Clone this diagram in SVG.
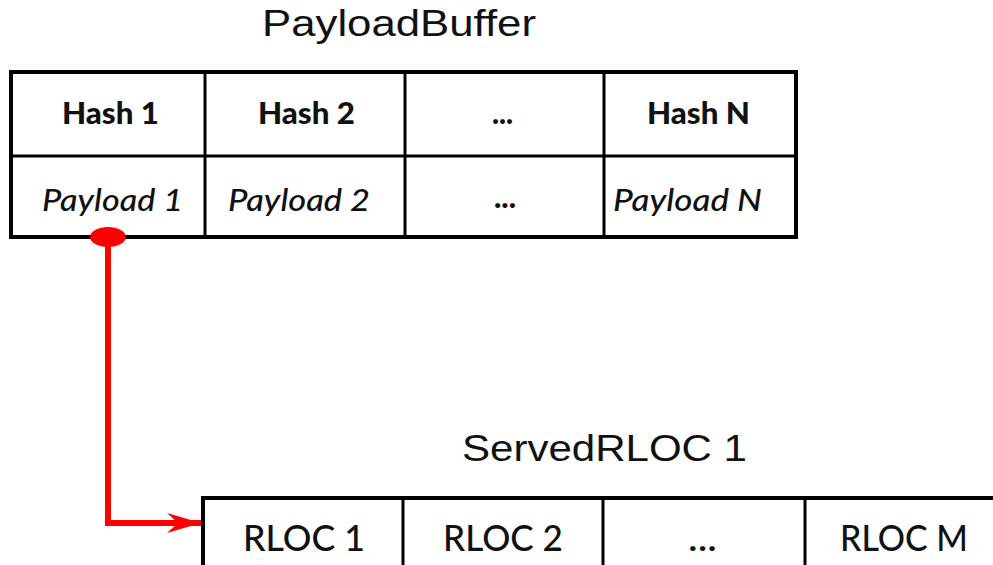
<svg xmlns="http://www.w3.org/2000/svg" width="993" height="565" viewBox="0 0 993 565">
  <style>
    .title { font-family: "Liberation Sans", Arial, sans-serif; font-size: 36px; fill: #111; }
    .hash { font-family: Lato, "Open Sans", sans-serif; font-weight: 900; font-size: 30px; fill: #111; }
    .pay { font-family: Lato, "Open Sans", sans-serif; font-style: italic; font-weight: 500; font-size: 31px; fill: #111; }
    .rloc { font-family: Lato, "Open Sans", sans-serif; font-weight: 500; font-size: 37px; fill: #111; }
    .frame { fill: #fff; stroke: #000; stroke-width: 4; }
    .grid { stroke: #000; stroke-width: 3; fill: none; }
    .link { stroke: #ff0000; stroke-width: 6; fill: none; stroke-linejoin: miter; }
  </style>
  <defs>
    <marker id="arrow" markerUnits="userSpaceOnUse" markerWidth="40" markerHeight="24" refX="34" refY="10" orient="auto">
      <path d="M0,0 L34,10 L0,20 L11,10 Z" fill="#ff0000"/>
    </marker>
  </defs>

  <rect width="993" height="565" fill="#fff"/>

  <!-- PayloadBuffer table -->
  <g id="payload-buffer">
    <text class="title" x="262" y="36" textLength="274" lengthAdjust="spacingAndGlyphs">PayloadBuffer</text>
    <rect class="frame" x="11" y="72" width="785" height="165"/>
    <line class="grid" x1="11" y1="156" x2="796" y2="156"/>
    <line class="grid" x1="205" y1="72" x2="205" y2="237"/>
    <line class="grid" x1="405" y1="72" x2="405" y2="237"/>
    <line class="grid" x1="604" y1="72" x2="604" y2="237"/>
    <text class="hash" x="62" y="124" textLength="97" lengthAdjust="spacingAndGlyphs">Hash 1</text>
    <text class="hash" x="258" y="124" textLength="97" lengthAdjust="spacingAndGlyphs">Hash 2</text>
    <text class="hash" x="492" y="124" textLength="21" lengthAdjust="spacingAndGlyphs">...</text>
    <text class="hash" x="647" y="124" textLength="103" lengthAdjust="spacingAndGlyphs">Hash N</text>
    <text class="pay" x="42" y="211" textLength="141" lengthAdjust="spacingAndGlyphs">Payload 1</text>
    <text class="pay" x="228" y="211" textLength="142" lengthAdjust="spacingAndGlyphs">Payload 2</text>
    <text class="hash" x="494" y="208" textLength="22" lengthAdjust="spacingAndGlyphs">...</text>
    <text class="pay" x="613" y="211" textLength="149" lengthAdjust="spacingAndGlyphs">Payload N</text>
  </g>

  <!-- ServedRLOC 1 table -->
  <g id="served-rloc-1">
    <text class="title" x="462" y="461" textLength="285" lengthAdjust="spacingAndGlyphs">ServedRLOC 1</text>
    <rect class="frame" x="203" y="498" width="820" height="120"/>
    <line class="grid" x1="403" y1="498" x2="403" y2="565"/>
    <line class="grid" x1="603" y1="498" x2="603" y2="565"/>
    <line class="grid" x1="805" y1="498" x2="805" y2="565"/>
    <text class="rloc" x="243" y="551" textLength="122" lengthAdjust="spacingAndGlyphs">RLOC 1</text>
    <text class="rloc" x="443" y="551" textLength="120" lengthAdjust="spacingAndGlyphs">RLOC 2</text>
    <text class="rloc" x="688" y="551" textLength="29" lengthAdjust="spacingAndGlyphs">...</text>
    <text class="rloc" x="840" y="551" textLength="128" lengthAdjust="spacingAndGlyphs">RLOC M</text>
  </g>

  <!-- pointer from Payload 1 to the RLOC list -->
  <g id="connectors">
    <ellipse cx="108" cy="237" rx="18" ry="10" fill="#ff0000"/>
    <path class="link" d="M108,240 L108,523 L201,523" marker-end="url(#arrow)"/>
  </g>
</svg>
